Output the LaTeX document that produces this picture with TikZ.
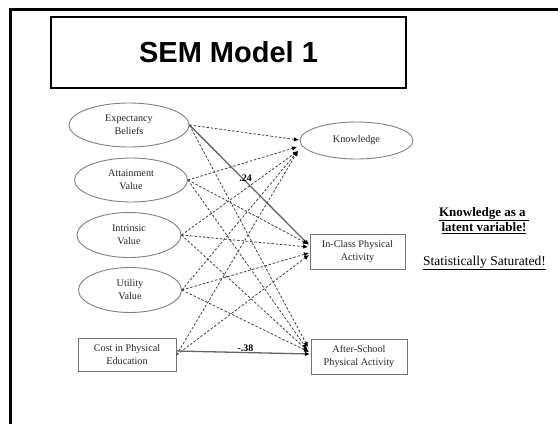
\documentclass[tikz,border=0pt]{standalone}
\usepackage{fontspec}
\setmainfont{Liberation Serif}
\newfontfamily\titlefont{Liberation Sans}
\usetikzlibrary{arrows.meta,shapes.geometric}
\begin{document}
\begin{tikzpicture}[x=1pt,y=-1pt,
  txt/.style={font=\fontsize{10.2}{13}\selectfont, text=black!85, align=center, inner sep=0pt},
  lat/.style={txt, ellipse, draw=black!50, line width=0.9pt},
  obs/.style={txt, rectangle, draw=black!55, line width=0.9pt},
  dpath/.style={draw=black!75, line width=0.8pt, dash pattern=on 2.5pt off 1.8pt, -{Latex[length=5pt,width=4.5pt,color=black]}},
  spath/.style={draw=black!60, line width=1.3pt, -{Latex[length=5pt,width=4.5pt,color=black]}},
  coef/.style={font=\bfseries\fontsize{10}{12}\selectfont, inner sep=0pt},
  note/.style={font=\bfseries\fontsize{13}{15}\selectfont, align=center, inner sep=0pt}
]
\useasboundingbox (0,0) rectangle (558,424);
% slide frame
\draw[line width=3pt] (10,424) -- (10,9.5) -- (558,9.5);
% title
\node[draw, line width=1.2pt, minimum width=355pt, minimum height=71pt, inner sep=0pt] (title) at (228.5,52.5)
  {\titlefont\bfseries\fontsize{29}{30}\selectfont SEM Model 1};
% exogenous
\node[lat, minimum width=120pt, minimum height=44pt] (E) at (129,125) {Expectancy\\Beliefs};
\node[lat, minimum width=113pt, minimum height=44pt] (A) at (131,180) {Attainment\\Value};
\node[lat, minimum width=104pt, minimum height=45pt] (I) at (129,235) {Intrinsic\\Value};
\node[lat, minimum width=103pt, minimum height=45pt] (U) at (130,290) {Utility\\Value};
\node[obs, minimum width=98pt, minimum height=33pt] (C) at (127,355) {Cost in Physical\\Education};
% endogenous
\node[lat, minimum width=113pt, minimum height=37pt] (K) at (356.5,140.5) {Knowledge};
\node[obs, minimum width=95pt, minimum height=35pt] (IC) at (357.5,251.5) {In-Class Physical\\Activity};
\node[obs, minimum width=96pt, minimum height=35pt] (AS) at (359,356.5) {After-School\\Physical Activity};
% arrow end points
\coordinate (k1) at (299,140);
\coordinate (k2) at (297,147);
\coordinate (k3) at (298,151);
\coordinate (i1) at (309,245);
\coordinate (i2) at (308,244);
\coordinate (i3) at (308,247);
\coordinate (i4) at (309,253);
\coordinate (i5) at (309,255);
\coordinate (a1) at (308,347);
\coordinate (a2) at (307,349);
\coordinate (a3) at (308,351);
\coordinate (a4) at (309,352);
\coordinate (a5) at (310,354);
% paths to Knowledge
\draw[dpath] (E.east) -- (k1);
\draw[dpath] (A.east) -- (k2);
\draw[dpath] (I.east) -- (k3);
\draw[dpath] (U.east) -- (k3);
\draw[dpath] (C.east) -- (k3);
% paths to In-Class
\draw[spath] (E.east) -- (i1);
\draw[dpath] (A.east) -- (i2);
\draw[dpath] (I.east) -- (i3);
\draw[dpath] (U.east) -- (i4);
\draw[dpath] (C.east) -- (i5);
% paths to After-School
\draw[dpath] (E.east) -- (a1);
\draw[dpath] (A.east) -- (a2);
\draw[dpath] (I.east) -- (a3);
\draw[dpath] (U.east) -- (a4);
\draw[spath] ([yshift=4pt]C.east) -- (a5);
% coefficients
\node[coef] (c1) at (245.5,178) {.24};
\node[coef] (c2) at (245.5,348) {-.38};
% notes
\node[note] (n1) at (484,220.5) {\underline{Knowledge as a\ }\\\underline{latent variable!}};
\node[font=\fontsize{13.5}{15}\selectfont, inner sep=0pt] (n2) at (484.5,263) {\underline{Statistically Saturated!}};
\end{tikzpicture}
\end{document}
